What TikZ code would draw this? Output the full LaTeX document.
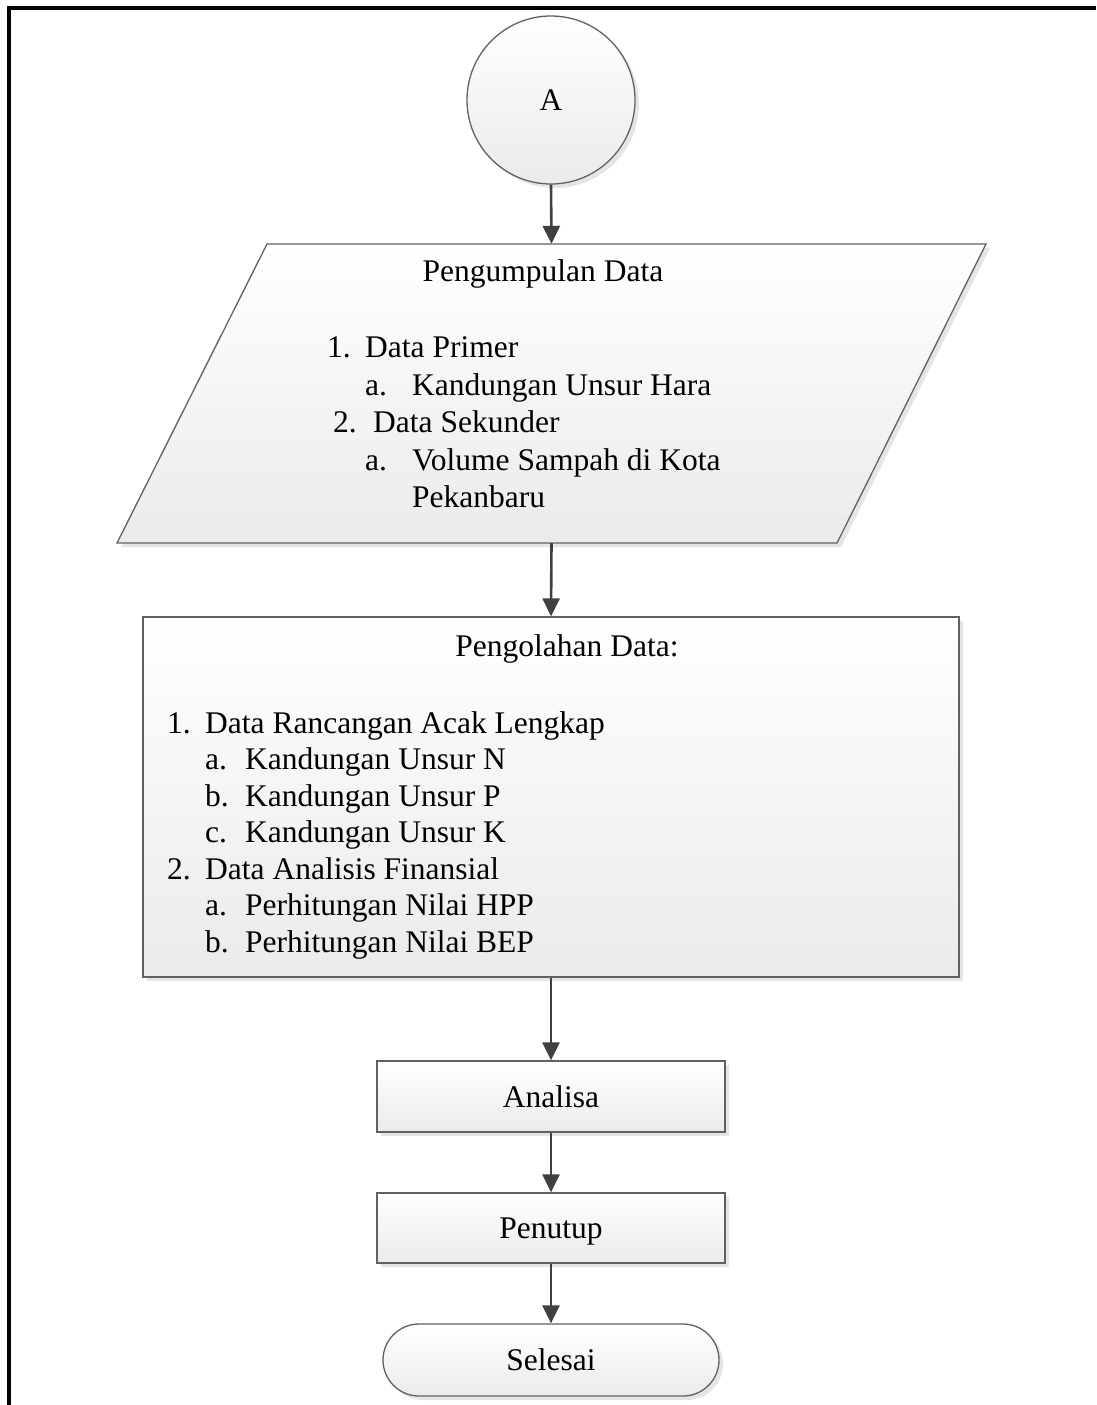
\documentclass[tikz,border=0pt]{standalone}
\usepackage{fontspec}
\setmainfont{Liberation Serif}
\usetikzlibrary{arrows.meta,shadows}
\begin{document}
\begin{tikzpicture}[x=1pt,y=-1pt,
  every node/.style={font=\fontsize{31.5pt}{36pt}\selectfont, inner sep=0pt},
  shapeline/.style={draw=black!62, line width=1.3pt},
  grad/.style={top color=white, bottom color=black!8},
  shad/.style={drop shadow={shadow xshift=4pt, shadow yshift=-4pt, fill=black!10, opacity=1}},
  boxnode/.style={shapeline, grad, shad, rectangle, text height=24pt, text depth=3pt},
  flowarrow/.style={draw=black!75, line width=2.6pt, -{Triangle[length=18pt,width=17pt]}},
  lbl/.style={anchor=base west},
]
\useasboundingbox (0,0) rectangle (1096,1405);
% frame
\draw[line width=4pt] (9,1405) -- (9,8) -- (1096,8);

% connector A
\node[circle, minimum size=168pt, shapeline, grad, shad, text height=24pt, text depth=3pt] (A) at (551,100) {A};

% parallelogram
\fill[black!10] (271,248) -- (990,248) -- (841,547) -- (121,547) -- cycle;
\path[shapeline, grad] (267,244) -- (986,244) -- (837,543) -- (117,543) -- cycle;
\node[minimum width=560pt, minimum height=299pt] (P) at (551.5,393.5) {};
\node (pt) at (543,274) {Pengumpulan Data};
\node[lbl] (p1n) at (327,357) {1.};
\node[lbl] (p1) at (365,357) {Data Primer};
\node[lbl] (p1an) at (365,395) {a.};
\node[lbl] (p1a) at (412,395) {Kandungan Unsur Hara};
\node[lbl] (p2n) at (333,432) {2.};
\node[lbl] (p2) at (373,432) {Data Sekunder};
\node[lbl] (p2an) at (365,470) {a.};
\node[lbl] (p2a) at (412,470) {Volume Sampah di Kota};
\node[lbl] (p2b) at (412,507) {Pekanbaru};

% processing box
\node[boxnode, minimum width=816pt, minimum height=360pt] (B) at (551,797) {};
\node (bt) at (567,649) {Pengolahan Data:};
\node[lbl] (b1n) at (167,733) {1.};
\node[lbl] (b1) at (205,733) {Data Rancangan Acak Lengkap};
\node[lbl] (b1an) at (205,769.5) {a.};
\node[lbl] (b1a) at (245,769.5) {Kandungan Unsur N};
\node[lbl] (b1bn) at (205,806) {b.};
\node[lbl] (b1b) at (245,806) {Kandungan Unsur P};
\node[lbl] (b1cn) at (205,842.5) {c.};
\node[lbl] (b1c) at (245,842.5) {Kandungan Unsur K};
\node[lbl] (b2n) at (167,879) {2.};
\node[lbl] (b2) at (205,879) {Data Analisis Finansial};
\node[lbl] (b2an) at (205,915.5) {a.};
\node[lbl] (b2a) at (245,915.5) {Perhitungan Nilai HPP};
\node[lbl] (b2bn) at (205,952) {b.};
\node[lbl] (b2b) at (245,952) {Perhitungan Nilai BEP};

% small boxes
\node[boxnode, minimum width=348pt, minimum height=71pt] (C) at (551,1096.5) {Analisa};
\node[boxnode, minimum width=348pt, minimum height=70pt] (D) at (551,1228) {Penutup};
\node[shapeline, grad, shad, rectangle, rounded corners=36pt, minimum width=336pt, minimum height=72pt, text height=24pt, text depth=3pt] (E) at (551,1360) {Selesai};

% arrows
\draw[flowarrow] (A.south) -- (P.north);
\draw[flowarrow] (P.south) -- (B.north);
\draw[flowarrow] (B.south) -- (C.north);
\draw[flowarrow] (C.south) -- (D.north);
\draw[flowarrow] (D.south) -- (E.north);
\end{tikzpicture}
\end{document}
